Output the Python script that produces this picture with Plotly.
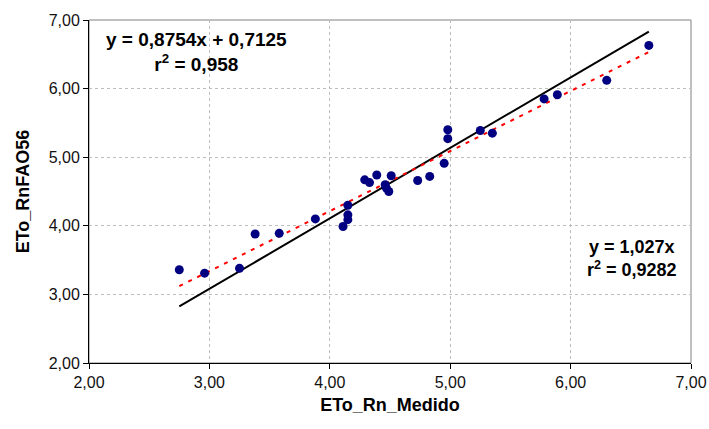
import numpy as np
import plotly.graph_objects as go

# Data
eto_medido = [2.75, 2.96, 3.25, 3.38, 3.58, 3.88, 4.11, 4.15, 4.15, 4.15,
              4.29, 4.33, 4.39, 4.46, 4.47, 4.49, 4.51, 4.73, 4.83, 4.95,
              4.98, 4.98, 5.25, 5.35, 5.78, 5.89, 6.30, 6.65]
eto_fao56 = [3.36, 3.31, 3.38, 3.88, 3.89, 4.10, 3.99, 4.09, 4.16, 4.30,
             4.67, 4.63, 4.74, 4.60, 4.55, 4.50, 4.73, 4.66, 4.72, 4.91,
             5.27, 5.40, 5.39, 5.35, 5.85, 5.91, 6.12, 6.63]

# Regression coefficients shown in the chart
lin_slope, lin_intercept = 0.8754, 0.7125
origin_slope = 1.027

tick_vals = [2, 3, 4, 5, 6, 7]
tick_text = ["2,00", "3,00", "4,00", "5,00", "6,00", "7,00"]

xs = np.array([min(eto_medido), max(eto_medido)])

fig = go.Figure()
fig.add_trace(go.Scatter(
    x=xs, y=origin_slope * xs, mode="lines",
    line=dict(color="black", width=2), showlegend=False, hoverinfo="skip"))
fig.add_trace(go.Scatter(
    x=xs, y=lin_slope * xs + lin_intercept, mode="lines",
    line=dict(color="red", width=2, dash="4px,6px"), showlegend=False, hoverinfo="skip"))
fig.add_trace(go.Scatter(
    x=eto_medido, y=eto_fao56, mode="markers",
    marker=dict(color="#000080", size=9), showlegend=False))

font_fam = "Liberation Sans, Arial, sans-serif"
axis_common = dict(
    tickvals=tick_vals, ticktext=tick_text,
    showgrid=True, gridcolor="#bdbdbd", griddash="dot", gridwidth=1,
    showline=True, linecolor="black", linewidth=1,
    ticks="outside", ticklen=5, tickcolor="black",
    tickfont=dict(family=font_fam, size=16, color="#111111"),
    zeroline=False, automargin=False,
)
fig.update_xaxes(range=[2, 7], title=dict(text="<b>ETo_Rn_Medido</b>", standoff=8,
                 font=dict(family=font_fam, size=18, color="black")), **axis_common)
fig.update_yaxes(range=[2, 7], title=dict(text="<b>ETo_RnFAO56</b>", standoff=14,
                 font=dict(family=font_fam, size=18, color="black")), **axis_common)

fig.add_shape(type="rect", xref="paper", yref="paper", x0=0, y0=0, x1=1, y1=1,
              line=dict(color="#808080", width=1), layer="below")

fig.add_annotation(x=2.895, y=6.54, xref="x", yref="y", showarrow=False, align="center",
                   text="<b>y = 0,8754x + 0,7125<br>r<sup>2</sup> = 0,958</b>",
                   font=dict(family=font_fam, size=19, color="black"))
fig.add_annotation(x=6.51, y=3.52, xref="x", yref="y", showarrow=False, align="center",
                   text="<b>y = 1,027x<br>r<sup>2</sup> = 0,9282</b>",
                   font=dict(family=font_fam, size=18, color="black"))

fig.update_layout(
    width=709, height=429,
    margin=dict(l=89, r=18, t=20, b=66),
    plot_bgcolor="white", paper_bgcolor="white",
    font=dict(family=font_fam, color="black"),
)
fig.write_html("out.html", config={"displayModeBar": False},
               post_script="document.body.style.margin='0';document.body.style.overflow='hidden';")
